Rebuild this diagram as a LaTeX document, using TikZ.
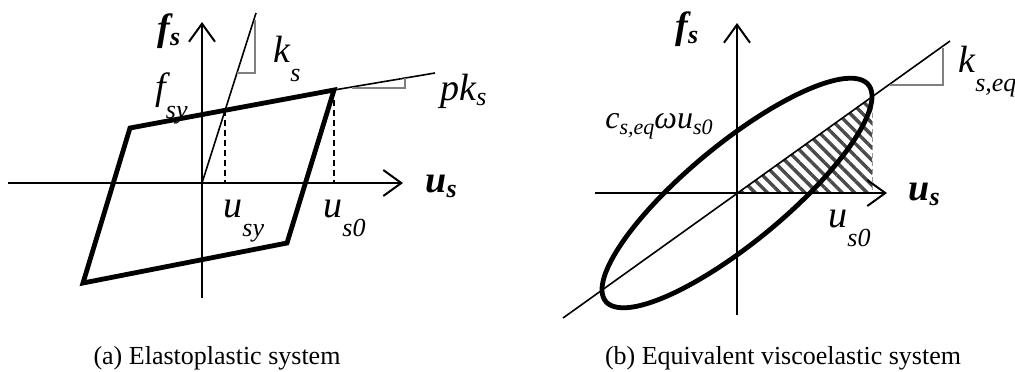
\documentclass[tikz,border=0pt]{standalone}
\usepackage{fontspec}
\setmainfont{Liberation Serif}
\usetikzlibrary{arrows.meta,patterns.meta}
\definecolor{ink}{HTML}{000000}
\definecolor{slope}{HTML}{808080}
\definecolor{hatch}{HTML}{4A4A4A}
\definecolor{faint}{HTML}{9A9A9A}
\tikzset{
  axis/.style={-{Straight Barb[length=9pt,width=13pt]},line width=1pt,draw=ink},
  loop/.style={line width=2.4pt,draw=ink,line join=miter},
  stiff/.style={line width=0.8pt,draw=ink},
  slopetri/.style={line width=1pt,draw=slope},
  guide/.style={dash pattern=on 3pt off 2pt,line width=0.6pt,draw=ink},
  faintguide/.style={dash pattern=on 2.5pt off 1.5pt,line width=0.5pt,draw=faint},
  lab/.style={anchor=base west,inner sep=0pt,font=\fontsize{19}{20}\selectfont\itshape},
  boldlab/.style={anchor=base west,inner sep=0pt,font=\fontsize{19}{20}\selectfont\bfseries\itshape},
  caption/.style={anchor=base,inner sep=0pt,font=\fontsize{13}{15}\selectfont},
}
\newcommand{\dsub}[1]{\raisebox{-9.5pt}{\fontsize{13}{13}\selectfont #1}}
\newcommand{\ssub}[1]{\raisebox{-2.5pt}{\fontsize{13}{13}\selectfont #1}}
\newcommand{\tsub}[1]{\raisebox{-3pt}{\fontsize{11}{11}\selectfont #1}}

\begin{document}
\begin{tikzpicture}[x=0.5pt,y=-0.5pt]
  \useasboundingbox (0,0) rectangle (1015,371);

  % (a) elastoplastic system
  \coordinate (oA) at (202,183);
  \coordinate (uA0) at (8,183);
  \coordinate (uA1) at (403,183);
  \coordinate (fA0) at (202,298);
  \coordinate (fA1) at (202,22);
  \coordinate (pA) at (334,90);
  \coordinate (pB) at (287,243);
  \coordinate (pC) at (83,283);
  \coordinate (pD) at (130,128);
  \coordinate (kTop) at (256,13);
  \coordinate (pkEnd) at (435,73);
  \coordinate (yA) at (225,110);
  \coordinate (ksT) at (255,20);
  \coordinate (ksC) at (255,73);
  \coordinate (ksL) at (237,73);
  \coordinate (pkL) at (352,88);
  \coordinate (pkC) at (405,88);
  \coordinate (pkT) at (405,78);
  \draw[loop] (pA) -- (pB) -- (pC) -- (pD) -- cycle;
  \draw[stiff] (oA) -- (kTop);
  \draw[stiff] (pA) -- (pkEnd);
  \draw[guide] (yA) -- (yA |- oA);
  \draw[guide] (pA) -- (pA |- oA);
  \draw[slopetri] (ksT) -- (ksC) -- (ksL);
  \draw[slopetri] (pkL) -- (pkC) -- (pkT);
  \draw[axis] (uA0) -- (uA1);
  \draw[axis] (fA0) -- (fA1);
  \node[boldlab] (fsA) at (157,40) {f\ssub{s}};
  \node[boldlab] (usA) at (425,192) {u\ssub{s}};
  \node[lab] (ks) at (273,62) {k\dsub{s}};
  \node[lab] (fsy) at (155,99) {f\dsub{sy}};
  \node[lab] (usy) at (223,217) {u\dsub{sy}};
  \node[lab] (us0A) at (323,217) {u\dsub{s0}};
  \node[lab] (pks) at (440,100) {pk\ssub{s}};
  \node[caption] (capA) at (217,364) {(a) Elastoplastic system};

  % (b) equivalent viscoelastic system
  \coordinate (oB) at (737,193);
  \coordinate (uB0) at (595,193);
  \coordinate (uB1) at (887,193);
  \coordinate (fB0) at (737,315);
  \coordinate (fB1) at (737,23);
  \coordinate (kB0) at (563,318);
  \coordinate (kB1) at (950,41);
  \coordinate (hTop) at (872,97);
  \coordinate (keT) at (943,48);
  \coordinate (keC) at (943,85);
  \coordinate (keL) at (890,85);
  \fill[pattern={Lines[angle=-45,distance=4.4pt,line width=1.7pt]},pattern color=hatch]
    (oB) -- (hTop) -- (hTop |- oB) -- cycle;
  \draw[faintguide] (hTop) -- (hTop |- oB);
  \draw[stiff] (kB0) -- (kB1);
  \draw[slopetri] (keT) -- (keC) -- (keL);
  \draw[loop] plot[domain=0:360,samples=120,smooth]
    ({737+135*cos(\x)},{193-96.6*cos(\x)-62*sin(\x)}) -- cycle;
  \draw[axis] (uB0) -- (uB1);
  \draw[axis] (fB0) -- (fB1);
  \node[boldlab] (fsB) at (675,38) {f\ssub{s}};
  \node[boldlab] (usB) at (908,200) {u\ssub{s}};
  \node[lab] (kseq) at (958,72) {k\dsub{s,eq}};
  \node[lab,font=\fontsize{16}{20}\selectfont\itshape] (cwu) at (605,128) {c\tsub{s,eq}ωu\tsub{s0}};
  \node[lab] (us0B) at (828,227) {u\dsub{s0}};
  \node[caption] (capB) at (783,364) {(b) Equivalent viscoelastic system};
\end{tikzpicture}
\end{document}
